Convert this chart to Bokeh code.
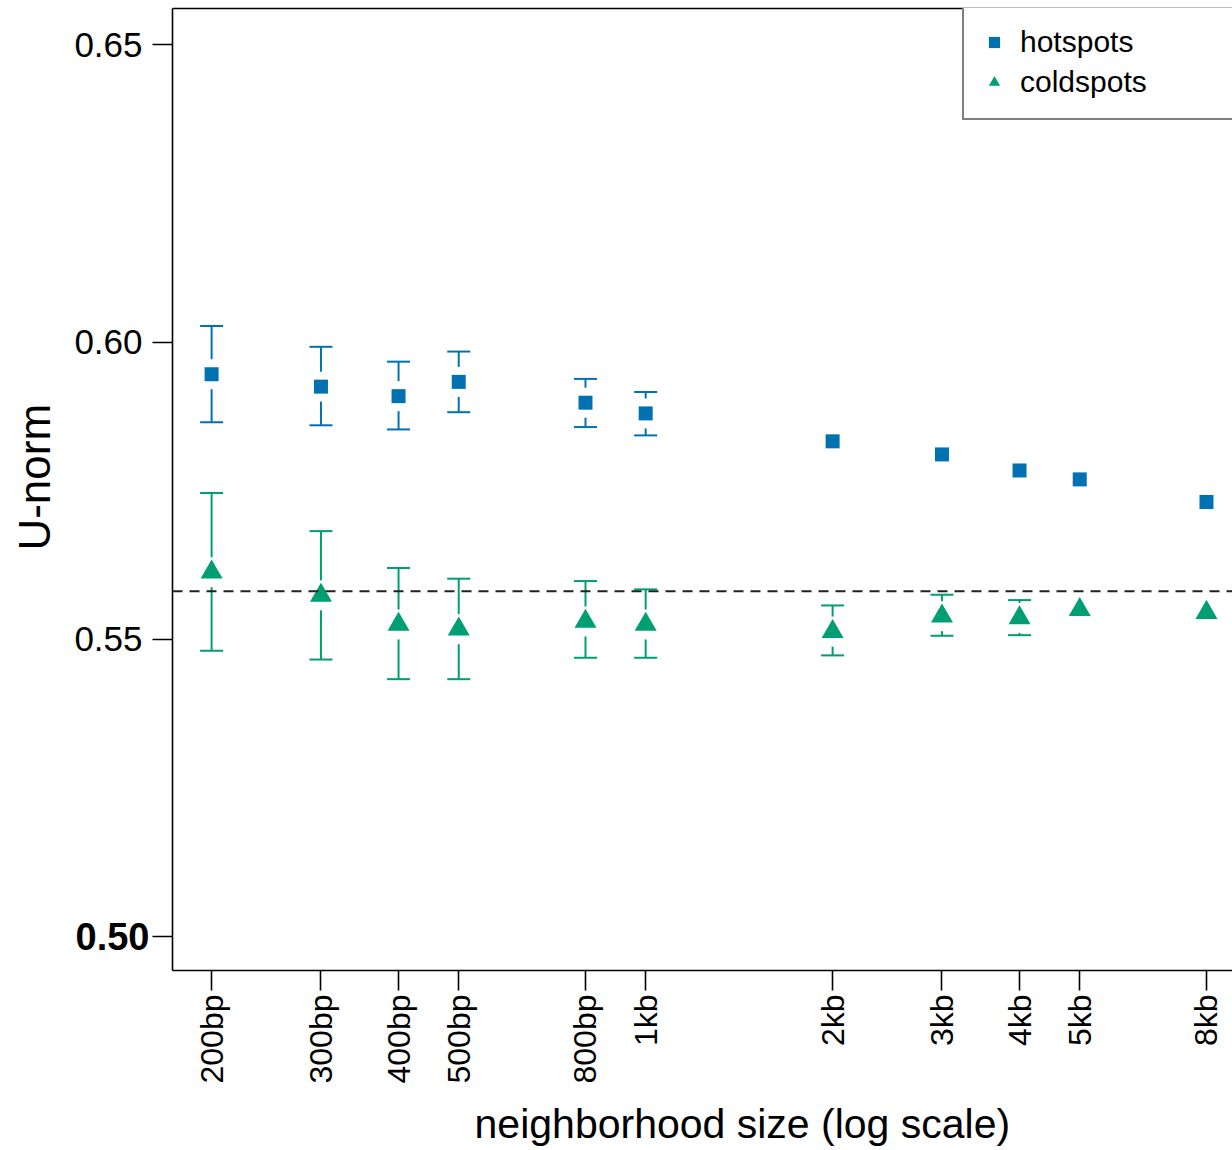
import math
from bokeh.plotting import figure
from bokeh.models import (FixedTicker, LinearAxis, Span, Whisker, TeeHead, ColumnDataSource,
                          Legend, LegendItem, Range1d)
from bokeh.embed import file_html
from bokeh.resources import INLINE

# ---- data ----
sizes = [200, 300, 400, 500, 800, 1000, 2000, 3000, 4000, 5000, 8000]
size_labels = ["200bp", "300bp", "400bp", "500bp", "800bp", "1kb", "2kb", "3kb", "4kb", "5kb", "8kb"]
hot_mean = [0.5946, 0.5925, 0.5909, 0.5933, 0.5898, 0.5880, 0.5833, 0.5811, 0.5784, 0.5769, 0.5731]
hot_upper = [0.6027, 0.5992, 0.5967, 0.5984, 0.5938, 0.5916, 0.5860, 0.5832, 0.5802, 0.5785, 0.5745]
hot_lower = [0.5865, 0.5860, 0.5853, 0.5882, 0.5857, 0.5843, 0.5808, 0.5791, 0.5766, 0.5753, 0.5718]
cold_mean = [0.5613, 0.5574, 0.5525, 0.5517, 0.5530, 0.5525, 0.5513, 0.5539, 0.5536, 0.5550, 0.5545]
cold_upper = [0.5746, 0.5682, 0.5620, 0.5602, 0.5598, 0.5584, 0.5557, 0.5575, 0.5566, 0.5577, 0.5567]
cold_lower = [0.5481, 0.5466, 0.5433, 0.5433, 0.5469, 0.5469, 0.5473, 0.5506, 0.5507, 0.5524, 0.5526]
baseline = 0.5581
y_ticks = [0.50, 0.55, 0.60, 0.65]
y_tick_labels = ["0.50", "0.55", "0.60", "0.65"]
x_title = "neighborhood size (log scale)"
y_title = "U-norm"

BLUE = "#0072B2"
GREEN = "#009E73"
FONT = "Liberation Sans"
NBSP = "\u00a0"

W, H = 1232, 1150
FL, FT, FB = 172, 8, 180
x0, x1 = 173, 8810
y0, y1 = 0.4943, 0.6561
FH = H - FT - FB

p = figure(width=W, height=H, x_axis_type="log", output_backend="svg", toolbar_location=None,
           x_range=Range1d(x0, x1), y_range=Range1d(y0, y1),
           min_border_left=FL, min_border_top=FT, min_border_bottom=FB, min_border_right=0)
p.outline_line_color = None
p.xgrid.visible = False
p.ygrid.visible = False
p.background_fill_color = "white"
p.border_fill_color = "white"

# x axis
xa = p.xaxis[0]
xa.ticker = FixedTicker(ticks=sizes, minor_ticks=[])
xa.major_label_overrides = {s: l for s, l in zip(sizes, size_labels)}
xa.major_label_orientation = math.pi / 2
xa.major_tick_out = 20
xa.major_tick_in = 0
xa.minor_tick_out = 0
xa.minor_tick_in = 0
xa.major_label_standoff = 4
xa.major_label_text_font = FONT
xa.major_label_text_font_size = "32px"
xa.major_label_text_color = "black"
xa.axis_line_width = 1.6
xa.major_tick_line_width = 1.6
# leading no-break spaces shift the centred title to where the reference has it
xa.axis_label = NBSP * 7 + x_title
xa.axis_label_text_font = FONT
xa.axis_label_text_font_size = "41px"
xa.axis_label_text_font_style = "normal"
xa.axis_label_text_color = "black"
xa.axis_label_standoff = 15

# y axis (0.50 label drawn bold by a second axis)
ya = p.yaxis[0]
ya.ticker = FixedTicker(ticks=y_ticks, minor_ticks=[])
overrides = {t: l for t, l in zip(y_ticks, y_tick_labels)}
overrides[y_ticks[0]] = ""
ya.major_label_overrides = overrides
ya.major_tick_out = 20
ya.major_tick_in = 0
ya.minor_tick_out = 0
ya.minor_tick_in = 0
ya.major_label_standoff = 10
ya.major_label_text_font = FONT
ya.major_label_text_font_size = "35px"
ya.major_label_text_color = "black"
ya.axis_line_width = 1.6
ya.major_tick_line_width = 1.6
ya.axis_label = NBSP * 2 + y_title
ya.axis_label_text_font = FONT
ya.axis_label_text_font_size = "44px"
ya.axis_label_text_font_style = "normal"
ya.axis_label_text_color = "black"
ya.axis_label_standoff = 12

bold_axis = LinearAxis(ticker=FixedTicker(ticks=[y_ticks[0]], minor_ticks=[]),
                       major_label_overrides={y_ticks[0]: y_tick_labels[0]},
                       axis_line_color=None, major_tick_line_color=None, minor_tick_line_color=None,
                       major_tick_out=0, major_tick_in=0, minor_tick_out=0, minor_tick_in=0,
                       major_label_standoff=-142, major_label_text_font=FONT,
                       major_label_text_font_size="38px", major_label_text_font_style="bold",
                       major_label_text_color="black")
p.add_layout(bold_axis, "left")

# top border line of the box
top = LinearAxis(ticker=FixedTicker(ticks=[], minor_ticks=[]), major_tick_out=0, major_tick_in=0,
                 minor_tick_out=0, minor_tick_in=0, major_label_standoff=0,
                 major_label_text_font_size="0px", axis_line_width=1.6)
p.add_layout(top, "above")

# baseline
p.add_layout(Span(location=baseline, dimension="width", line_color="#222222", line_width=2,
                  line_dash="10 7"))

# error bars with a gap around each point
px_per_unit = FH / (y1 - y0)
gap = 15 / px_per_unit
min_span = 0.0055


def error_bars(mean, upper, lower, color):
    idx = [i for i in range(len(sizes)) if upper[i] - lower[i] > min_span]
    xs = [sizes[i] for i in idx]
    up_src = ColumnDataSource(dict(x=xs, a=[upper[i] for i in idx], b=[mean[i] + gap for i in idx]))
    lo_src = ColumnDataSource(dict(x=xs, a=[mean[i] - gap for i in idx], b=[lower[i] for i in idx]))
    p.segment(x0="x", y0="a", x1="x", y1="b", source=up_src, line_color=color, line_width=2)
    p.segment(x0="x", y0="a", x1="x", y1="b", source=lo_src, line_color=color, line_width=2)
    wsrc = ColumnDataSource(dict(x=xs, up=[upper[i] for i in idx], lo=[lower[i] for i in idx]))
    w = Whisker(source=wsrc, base="x", upper="up", lower="lo", dimension="height",
                line_alpha=0,
                upper_head=TeeHead(size=23, line_color=color, line_width=2),
                lower_head=TeeHead(size=23, line_color=color, line_width=2))
    p.add_layout(w)


error_bars(hot_mean, hot_upper, hot_lower, BLUE)
error_bars(cold_mean, cold_upper, cold_lower, GREEN)

hot_r = p.scatter(sizes, hot_mean, marker="square", size=14, fill_color=BLUE, line_color=None)
cold_r = p.scatter(sizes, cold_mean, marker="triangle", size=22, fill_color=GREEN, line_color=None)

legend = Legend(items=[LegendItem(label="hotspots", renderers=[hot_r]),
                       LegendItem(label="coldspots", renderers=[cold_r])],
                location=(790, 850), orientation="vertical",
                border_line_color="black", border_line_width=2, background_fill_color="white",
                background_fill_alpha=1.0, padding=16, spacing=0, margin=0,
                glyph_width=28, glyph_height=40, label_height=40, label_width=260,
                label_standoff=12, label_text_font=FONT, label_text_font_size="30px",
                label_text_color="black")
p.add_layout(legend)

open("out.html", "w").write(file_html(p, INLINE))
